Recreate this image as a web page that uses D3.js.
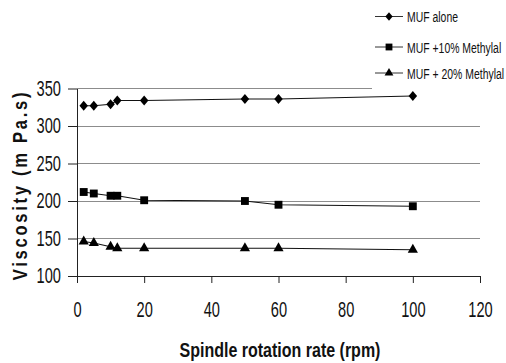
<!DOCTYPE html>
<html>
<head>
<meta charset="utf-8">
<script src="https://cdn.jsdelivr.net/npm/d3@7"></script>
<style>
  body { margin: 0; background: #fff; }
  svg { display: block; }
</style>
</head>
<body>
<div id="chart"></div>
<script>
// spindle speeds (rpm) shared by all series
const rpm = [2, 5, 10, 12, 20, 50, 60, 100];
const mufAlone = [327, 327, 329, 334, 334, 336, 336, 340];
const muf10 = [212, 210, 207, 207, 201, 200, 195, 193];
const muf20 = [146, 144, 139, 137, 137, 137, 137, 135];
const seriesNames = ["MUF alone", "MUF +10% Methylal", "MUF + 20% Methylal"];
const xTicks = [0, 20, 40, 60, 80, 100, 120];
const yTicks = [100, 150, 200, 250, 300, 350];

const width = 506, height = 363;
const font = "'Liberation Sans', Arial, sans-serif";
const tickK = 0.68;   // no narrow face installed, so squash the regular one

const x = d3.scaleLinear().domain([0, 120]).range([77, 480]);
const y = d3.scaleLinear().domain([100, 350]).range([276, 88.5]);

// horizontally condense text while keeping its anchor point
function squeeze(sel, k) {
    sel.each(function() {
        const t = d3.select(this);
        const x0 = +t.attr("x") || 0;
        t.attr("x", x0 / k).attr("transform", `scale(${k},1)`);
    });
}

// diamond that is a bit wider than d3's own
const diamond = {
    draw(ctx, size) {
        const h = Math.sqrt(size) * 0.72, w = h * 0.85;
        ctx.moveTo(0, -h);
        ctx.lineTo(w, 0);
        ctx.lineTo(0, h);
        ctx.lineTo(-w, 0);
        ctx.closePath();
    }
};

const svg = d3.select("#chart").append("svg")
    .attr("width", width)
    .attr("height", height);

// gridlines
svg.append("g")
    .attr("class", "grid")
  .selectAll("line")
  .data(yTicks.filter(d => d > 100))
  .join("line")
    .attr("x1", x(0))
    .attr("x2", x(120))
    .attr("y1", d => y(d))
    .attr("y2", d => y(d))
    .attr("stroke", "#8c8c8c")
    .attr("stroke-width", 1)
    .attr("shape-rendering", "crispEdges");

// legend box hides the top of the grid
svg.append("rect")
    .attr("x", 372)
    .attr("y", 0)
    .attr("width", width - 372)
    .attr("height", 90.5)
    .attr("fill", "#fff");

// axes
svg.append("g")
    .attr("transform", `translate(0,${y(100)})`)
    .call(d3.axisBottom(x).tickValues(xTicks).tickSize(7).tickPadding(19))
    .call(g => g.select(".domain").attr("stroke", "#222"))
    .call(g => g.selectAll(".tick line").attr("stroke", "#222"))
    .call(g => g.selectAll("text")
        .attr("font-family", font)
        .attr("font-size", 21.5)
        .attr("fill", "#111")
        .call(squeeze, tickK));

svg.append("g")
    .attr("transform", `translate(${x(0)},0)`)
    .call(d3.axisLeft(y).tickValues(yTicks).tickSize(9).tickSizeOuter(0).tickPadding(7))
    .call(g => g.select(".domain").attr("stroke", "#222"))
    .call(g => g.selectAll(".tick line").attr("stroke", "#222"))
    .call(g => g.selectAll("text")
        .attr("font-family", font)
        .attr("font-size", 21.5)
        .attr("fill", "#111")
        .call(squeeze, tickK));

// axis titles
svg.append("text")
    .attr("transform", "translate(280,356.5) scale(0.8,1)")
    .attr("text-anchor", "middle")
    .attr("font-family", font)
    .attr("font-weight", "bold")
    .attr("font-size", 20)
    .attr("fill", "#111")
    .text("Spindle rotation rate (rpm)");

svg.append("text")
    .attr("transform", "translate(27,185) rotate(-90) scale(0.85,1)")
    .attr("text-anchor", "middle")
    .attr("font-family", font)
    .attr("font-weight", "bold")
    .attr("font-size", 19.5)
    .attr("letter-spacing", 3.2)
    .attr("fill", "#111")
    .text("Viscosity (m Pa.s)");

// series
const series = [
    { name: seriesNames[0], values: mufAlone, symbol: diamond, size: 48 },
    { name: seriesNames[1], values: muf10, symbol: d3.symbolSquare, size: 62 },
    { name: seriesNames[2], values: muf20, symbol: d3.symbolTriangle, size: 45 }
];

const line = d3.line()
    .x(d => x(d[0]))
    .y(d => y(d[1]));

series.forEach(s => {
    const pts = rpm.map((r, i) => [r, s.values[i]]);
    svg.append("path")
        .datum(pts)
        .attr("d", line)
        .attr("fill", "none")
        .attr("stroke", "#111")
        .attr("stroke-width", 1.1);

    svg.append("g")
      .selectAll("path")
      .data(pts)
      .join("path")
        .attr("transform", d => `translate(${x(d[0])},${y(d[1])})`)
        .attr("d", d3.symbol(s.symbol, s.size))
        .attr("fill", "#000");
});

// legend
const legendY = [16.5, 47, 73];
const legend = svg.append("g")
    .attr("class", "legend")
    .attr("font-family", font)
    .attr("font-size", 14.5)
    .attr("fill", "#111");

series.forEach((s, i) => {
    legend.append("line")
        .attr("x1", 375)
        .attr("x2", 403)
        .attr("y1", legendY[i])
        .attr("y2", legendY[i])
        .attr("stroke", "#333")
        .attr("stroke-width", 1);
    legend.append("path")
        .attr("transform", `translate(389,${legendY[i]})`)
        .attr("d", d3.symbol(s.symbol, s.size * 0.75))
        .attr("fill", "#000");
    legend.append("text")
        .attr("x", 407)
        .attr("y", legendY[i] + 6)
        .call(squeeze, 0.72)
        .text(s.name);
});
</script>
</body>
</html>
